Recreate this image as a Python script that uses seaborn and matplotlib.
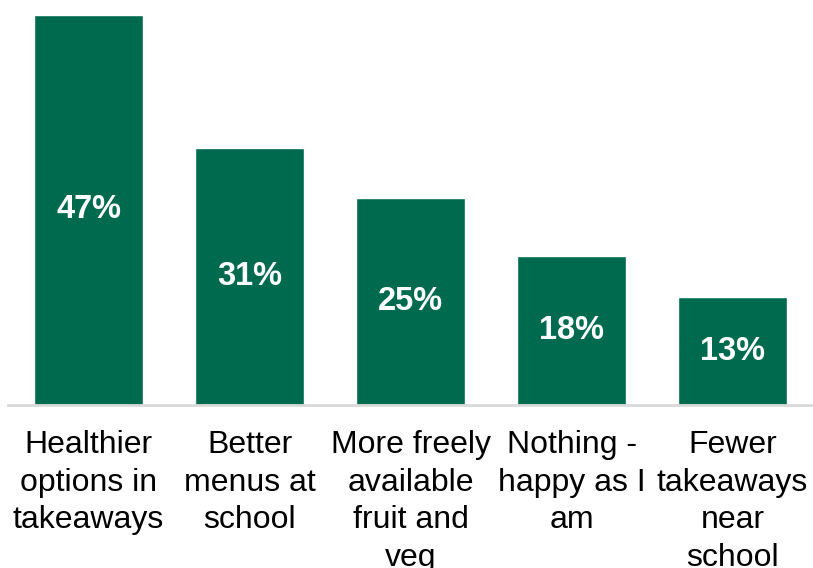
import matplotlib
matplotlib.use("Agg")
import matplotlib.pyplot as plt
import seaborn as sns
import pandas as pd

categories = [
    "Healthier\noptions in\ntakeaways",
    "Better\nmenus at\nschool",
    "More freely\navailable\nfruit and\nveg",
    "Nothing -\nhappy as I\nam",
    "Fewer\ntakeaways\nnear\nschool",
]
values = [47, 31, 25, 18, 13]

df = pd.DataFrame({"option": categories, "pct": values})

sns.set_style("white")
plt.rcParams["font.family"] = ["Liberation Sans", "DejaVu Sans"]

fig = plt.figure(figsize=(8.13, 5.68), dpi=100)
ax = fig.add_axes([8 / 813, 163 / 568, 805 / 813, 405 / 568])

sns.barplot(data=df, x="option", y="pct", color="#006A4E", saturation=1,
            width=0.68, ax=ax)

for patch, v in zip(ax.patches, values):
    ax.text(patch.get_x() + patch.get_width() / 2, v / 2, f"{v}%",
            ha="center", va="center", color="white", fontsize=23.5,
            fontweight="bold")

ax.set_xlim(-0.5, 4.5)
ax.set_ylim(0, 48.8)
ax.set_xlabel("")
ax.set_ylabel("")
ax.set_yticks([])
ax.tick_params(axis="x", length=0, pad=18, labelsize=23, colors="black")
for lbl in ax.get_xticklabels():
    lbl.set_linespacing(1.33)
    lbl.set_verticalalignment("top")

for side in ["top", "left", "right"]:
    ax.spines[side].set_visible(False)
ax.spines["bottom"].set_color("#D9D9D9")
ax.spines["bottom"].set_linewidth(2)

fig.savefig("out.png", dpi=100)
